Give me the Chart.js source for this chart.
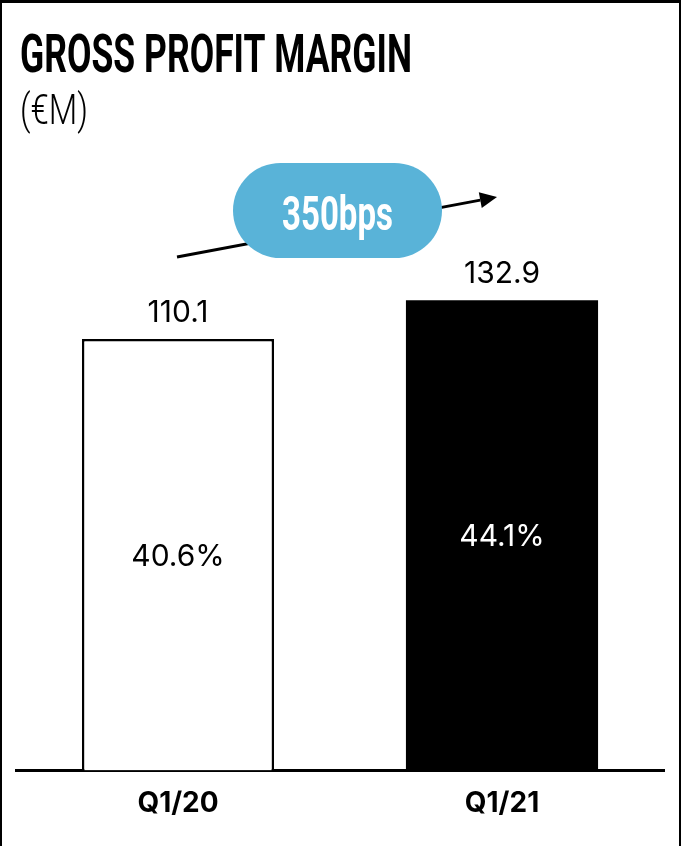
<!DOCTYPE html>
<html>
<head>
<meta charset="utf-8">
<script src="https://cdn.jsdelivr.net/npm/chart.js@4/dist/chart.umd.min.js"></script>
<style>
  html, body { margin: 0; padding: 0; background: #fff; }
  canvas { display: block; }
</style>
</head>
<body>
<canvas id="gpm" width="681" height="846"></canvas>
<script>
// Gross profit (€M) and gross margin by quarter
const quarters = ['Q1/20', 'Q1/21'];
const grossProfit = [110.1, 132.9];
const marginPct = [40.6, 44.1];
const marginChangeBps = 350;

const chartTitle = 'GROSS PROFIT MARGIN';
const unitLabel = '(€M)';

// The value axis does not start at zero; bars rise from the axis floor.
const axisFloor = -145;
const axisCeiling = 220;

const INK = '#000000';
const PILL_BLUE = '#59b3d8';
const CONDENSED = 'Roboto, "Liberation Sans", sans-serif';
const BODY = 'Inter, "Noto Sans", sans-serif';

// Draw text squeezed horizontally to a given width (condensed headline look)
function condensedText(ctx, text, x, y, font, width, align) {
  ctx.save();
  ctx.font = font;
  const natural = ctx.measureText(text).width;
  const sx = width / natural;
  ctx.translate(x, y);
  ctx.scale(sx, 1);
  ctx.textAlign = align;
  ctx.textBaseline = 'alphabetic';
  ctx.fillText(text, 0, 0);
  ctx.restore();
}

const framePlugin = {
  id: 'frame',
  afterDraw(chart) {
    const ctx = chart.ctx;
    const w = chart.width, h = chart.height;
    ctx.save();
    ctx.fillStyle = INK;
    ctx.fillRect(0, 0, 2, h);
    ctx.fillRect(0, 0, w, 3);
    ctx.fillRect(w - 2, 0, 2, h);
    ctx.restore();
  }
};

const headingPlugin = {
  id: 'heading',
  afterDraw(chart) {
    const ctx = chart.ctx;
    ctx.save();
    ctx.fillStyle = INK;
    condensedText(ctx, chartTitle, 20, 72, `700 54px ${CONDENSED}`, 392, 'left');
    condensedText(ctx, unitLabel, 20, 124, `300 42px ${CONDENSED}`, 68, 'left');
    ctx.restore();
  }
};

const valueLabelPlugin = {
  id: 'valueLabels',
  afterDatasetsDraw(chart) {
    const ctx = chart.ctx;
    const bars = chart.getDatasetMeta(0).data;
    ctx.save();
    ctx.textAlign = 'center';
    ctx.textBaseline = 'alphabetic';
    ctx.font = `400 30px ${BODY}`;
    bars.forEach((bar, i) => {
      ctx.fillStyle = INK;
      ctx.fillText(grossProfit[i].toFixed(1), bar.x, bar.y - 17);
      const mid = (bar.y + bar.base) / 2;
      ctx.fillStyle = i === 0 ? INK : '#ffffff';
      ctx.fillText(marginPct[i].toFixed(1) + '%', bar.x, mid + 11);
    });
    ctx.restore();
  }
};

const changeBadgePlugin = {
  id: 'changeBadge',
  afterDraw(chart) {
    const ctx = chart.ctx;
    const bars = chart.getDatasetMeta(0).data;
    const x0 = bars[0].x - 1, y0 = 257;
    const x1 = bars[1].x - 5, y1 = 197;
    ctx.save();
    // arrow shaft
    const ang = Math.atan2(y1 - y0, x1 - x0);
    const headLen = 17, headHalf = 8;
    const bx = x1 - headLen * Math.cos(ang), by = y1 - headLen * Math.sin(ang);
    ctx.strokeStyle = INK;
    ctx.lineWidth = 3;
    ctx.beginPath();
    ctx.moveTo(x0, y0);
    ctx.lineTo(bx, by);
    ctx.stroke();
    // arrow head
    ctx.fillStyle = INK;
    ctx.beginPath();
    ctx.moveTo(x1, y1);
    ctx.lineTo(bx + headHalf * Math.sin(ang), by - headHalf * Math.cos(ang));
    ctx.lineTo(bx - headHalf * Math.sin(ang), by + headHalf * Math.cos(ang));
    ctx.closePath();
    ctx.fill();
    // pill
    const cx = (bars[0].x + bars[1].x) / 2 - 2.5, cy = 210.5;
    const pw = 209, ph = 95, r = ph / 2;
    ctx.fillStyle = PILL_BLUE;
    ctx.beginPath();
    ctx.roundRect(cx - pw / 2, cy - ph / 2, pw, ph, r);
    ctx.fill();
    ctx.fillStyle = '#ffffff';
    condensedText(ctx, marginChangeBps + 'bps', cx, 230, `700 49px ${CONDENSED}`, 111, 'center');
    ctx.restore();
  }
};

new Chart(document.getElementById('gpm'), {
  type: 'bar',
  data: {
    labels: quarters,
    datasets: [{
      data: grossProfit,
      base: axisFloor,
      backgroundColor: ['#ffffff', INK],
      borderColor: INK,
      borderWidth: [2.5, 0],
      borderSkipped: 'bottom',
      barPercentage: 0.593,
      categoryPercentage: 1
    }]
  },
  options: {
    responsive: false,
    animation: false,
    devicePixelRatio: 1,
    layout: { padding: { top: 153, left: 16, right: 17, bottom: 10 } },
    plugins: {
      legend: { display: false },
      tooltip: { enabled: false },
      title: { display: false }
    },
    scales: {
      x: {
        z: 1,
        offset: true,
        grid: { display: false, drawTicks: false },
        border: { display: true, color: INK, width: 3 },
        ticks: {
          color: INK,
          padding: 16,
          font: { family: BODY, size: 28, weight: '700' }
        }
      },
      y: {
        display: false,
        min: axisFloor,
        max: axisCeiling
      }
    }
  },
  plugins: [valueLabelPlugin, changeBadgePlugin, headingPlugin, framePlugin]
});
</script>
</body>
</html>
